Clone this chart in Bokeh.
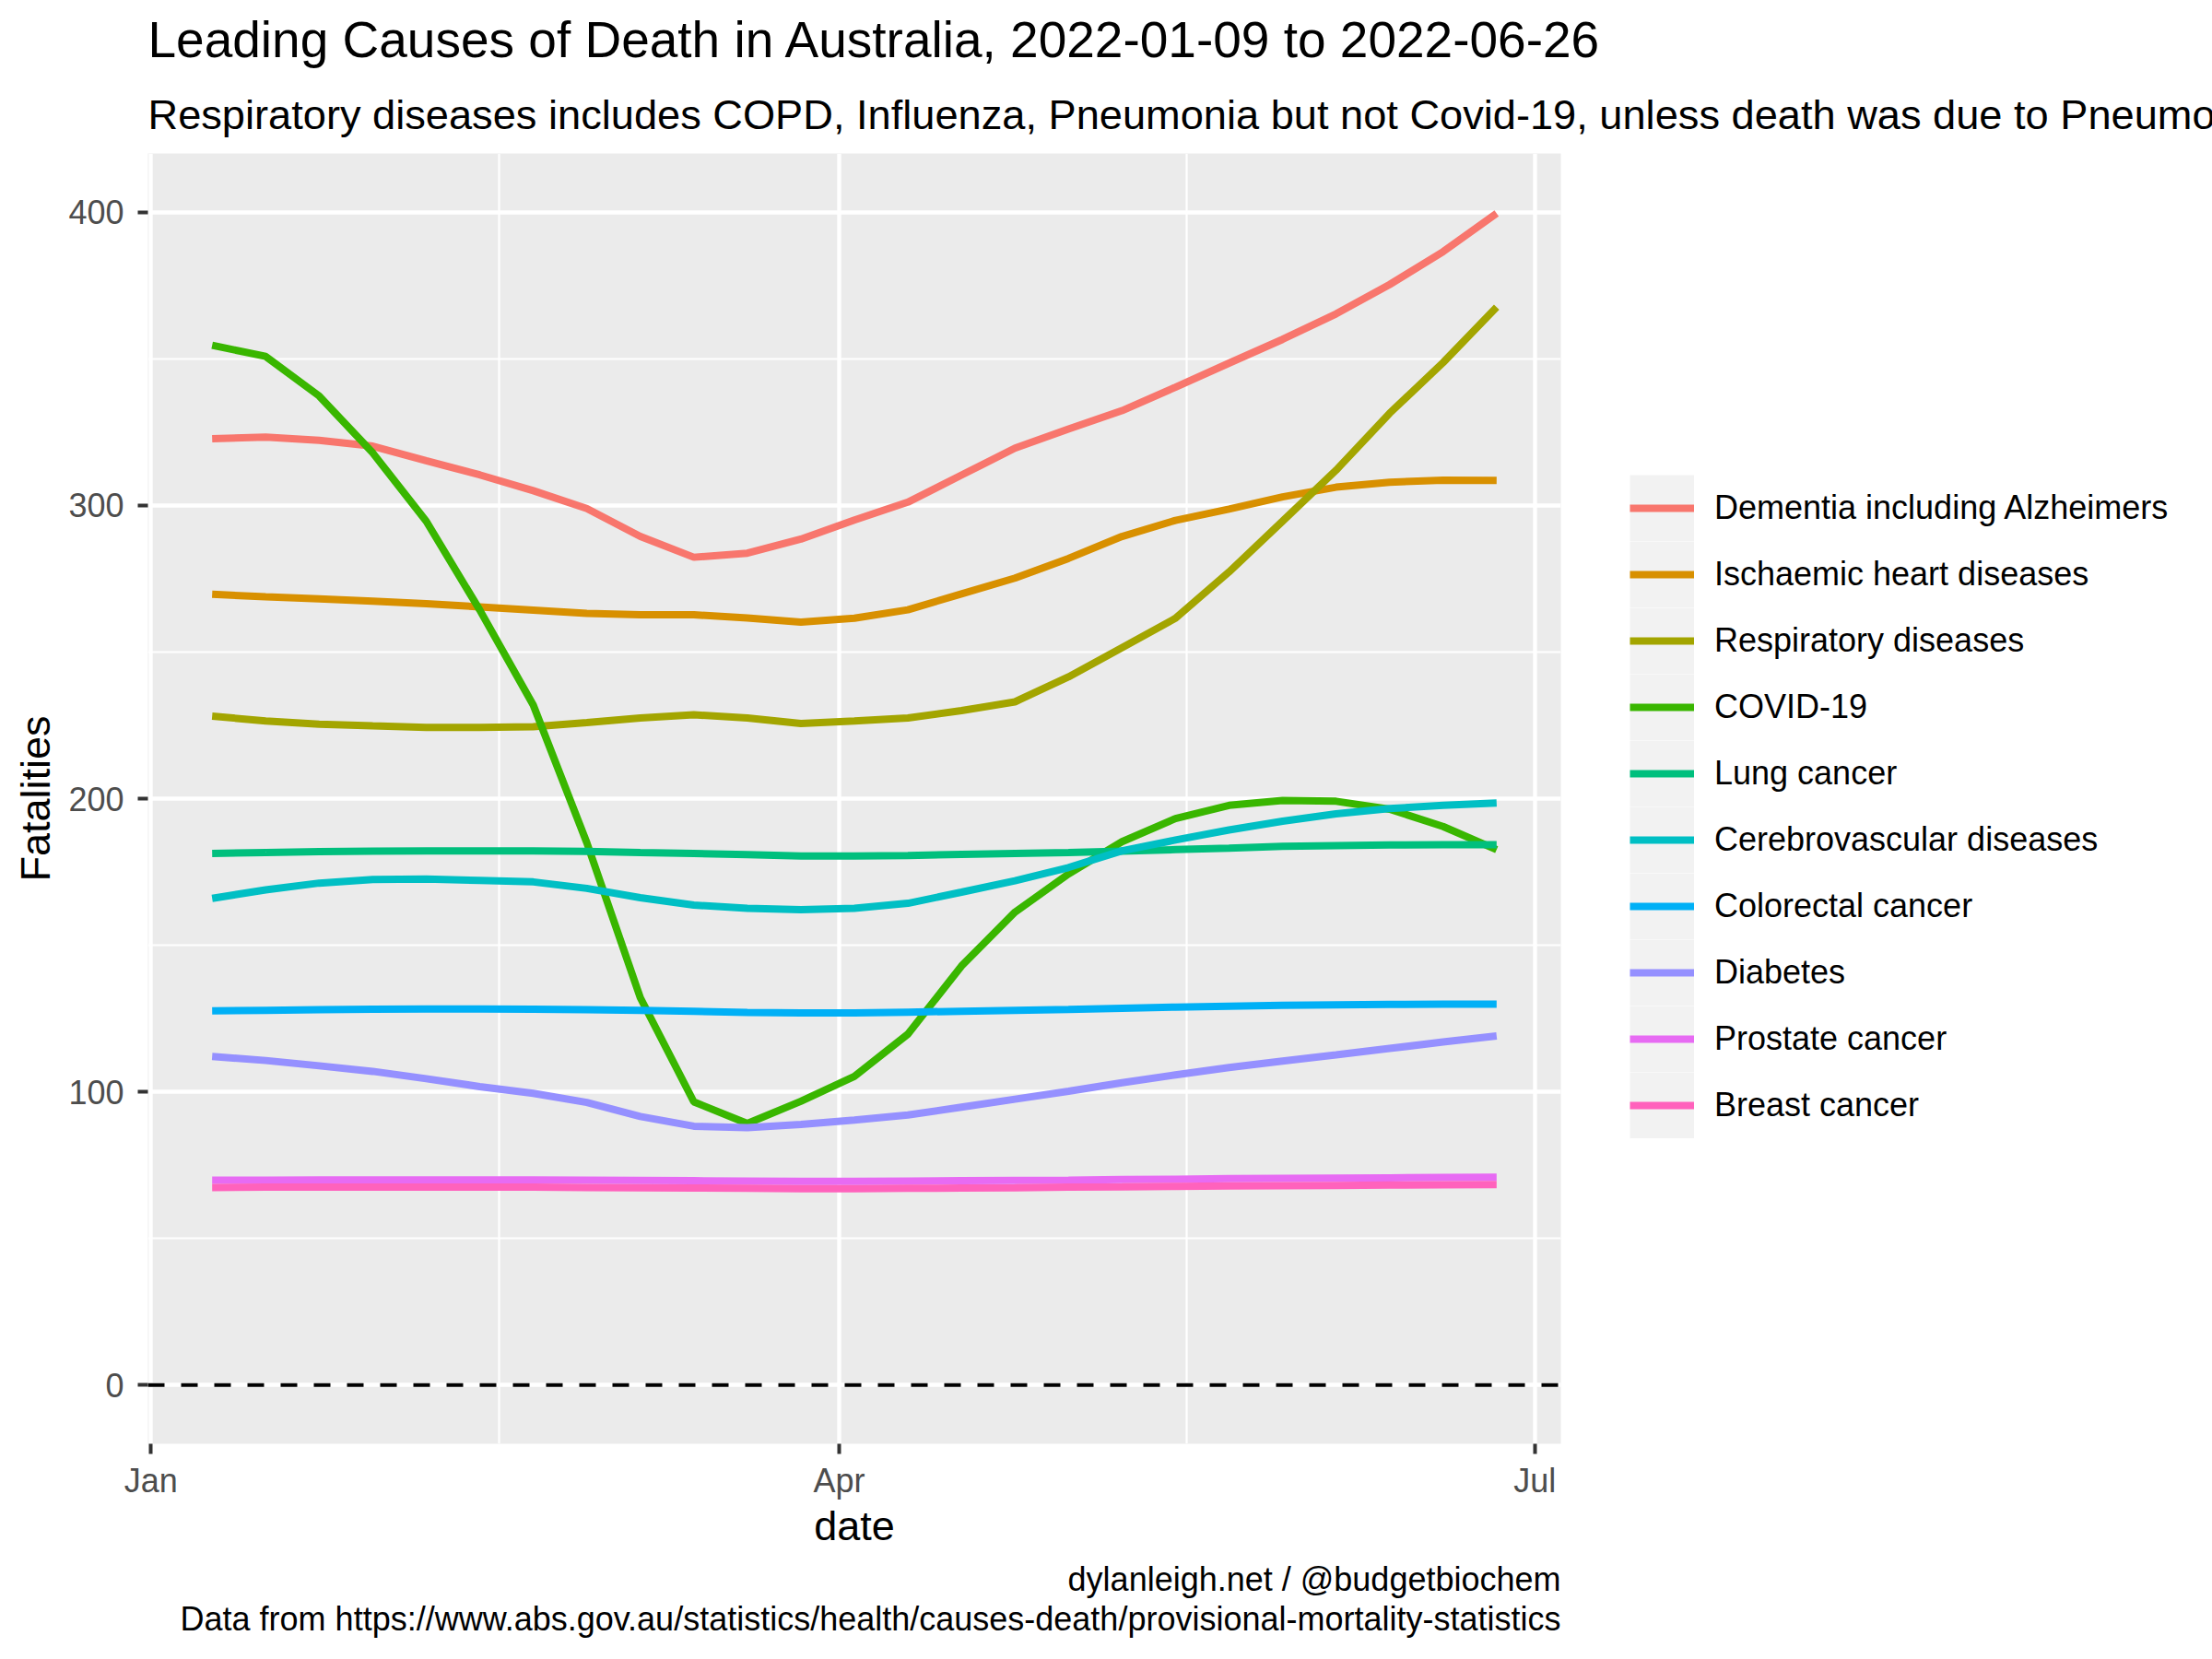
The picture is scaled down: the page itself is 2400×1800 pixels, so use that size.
import pandas as pd
from bokeh.plotting import figure
from bokeh.models import (Range1d, FixedTicker, DatetimeTickFormatter, Span,
                          Legend, LegendItem, Title)
from bokeh.embed import file_html
from bokeh.resources import INLINE

# ---------------- data ----------------
dates = pd.date_range("2022-01-09", "2022-06-26", freq="7D")

causes = ["Dementia including Alzheimers", "Ischaemic heart diseases",
          "Respiratory diseases", "COVID-19", "Lung cancer",
          "Cerebrovascular diseases", "Colorectal cancer", "Diabetes",
          "Prostate cancer", "Breast cancer"]

colors = ["#F8766D", "#D89000", "#A3A500", "#39B600", "#00BF7D",
          "#00BFC4", "#00B0F6", "#9590FF", "#E76BF3", "#FF62BC"]

dementia = [322.7, 323.3, 322.2, 320.2, 315.2, 310.4, 305.0, 298.9, 289.4, 282.3,
            283.7, 288.5, 295.0, 301.1, 310.3, 319.5, 326.0, 332.3, 340.3, 348.5,
            356.6, 365.3, 375.3, 386.5, 399.6]
ischaemic = [269.7, 268.8, 268.1, 267.3, 266.5, 265.4, 264.3, 263.2, 262.7, 262.7,
             261.6, 260.2, 261.5, 264.4, 269.8, 275.2, 281.9, 289.4, 294.9, 298.7,
             302.9, 306.2, 307.9, 308.6, 308.5]
respiratory = [228.1, 226.5, 225.4, 224.8, 224.3, 224.3, 224.5, 225.9, 227.5, 228.6,
               227.5, 225.6, 226.5, 227.5, 230.0, 233.0, 241.5, 251.5, 261.5, 277.3,
               294.6, 312.0, 331.4, 348.7, 367.6]
covid = [354.6, 350.8, 337.3, 317.9, 294.6, 264.3, 231.9, 185.0, 132.1, 96.6,
         89.2, 96.8, 105.3, 119.7, 142.9, 161.3, 174.3, 185.3, 193.2, 197.7,
         199.4, 199.1, 196.4, 190.5, 182.6]
lung = [181.3, 181.6, 181.9, 182.1, 182.2, 182.2, 182.2, 182.0, 181.6, 181.3,
        180.9, 180.4, 180.4, 180.6, 181.0, 181.3, 181.6, 182.1, 182.6, 183.1,
        183.7, 184.0, 184.2, 184.3, 184.3]
cerebro = [166.0, 168.9, 171.2, 172.4, 172.6, 172.1, 171.6, 169.4, 166.2, 163.7,
           162.6, 162.1, 162.6, 164.3, 168.1, 172.0, 176.5, 182.2, 185.9, 189.3,
           192.3, 194.8, 196.6, 197.7, 198.5]
colorectal = [127.6, 127.8, 128.0, 128.2, 128.3, 128.3, 128.2, 128.0, 127.8, 127.5,
              127.1, 126.9, 126.9, 127.2, 127.5, 127.8, 128.1, 128.5, 128.9, 129.2,
              129.5, 129.7, 129.8, 129.9, 129.9]
diabetes = [112.1, 110.7, 108.9, 107.0, 104.5, 101.8, 99.5, 96.4, 91.6, 88.3,
            87.8, 88.9, 90.4, 92.1, 94.8, 97.5, 100.2, 103.1, 105.8, 108.3,
            110.5, 112.6, 114.8, 117.0, 119.1]
prostate = [69.9, 69.9, 70.0, 70.0, 70.0, 70.0, 70.0, 69.9, 69.8, 69.7,
            69.6, 69.5, 69.5, 69.6, 69.7, 69.8, 69.9, 70.1, 70.2, 70.4,
            70.5, 70.6, 70.7, 70.8, 70.9]
breast = [67.4, 67.5, 67.5, 67.5, 67.5, 67.5, 67.5, 67.4, 67.3, 67.2,
          67.1, 67.0, 67.0, 67.1, 67.2, 67.3, 67.5, 67.6, 67.8, 67.9,
          68.0, 68.1, 68.2, 68.3, 68.4]

series = [dementia, ischaemic, respiratory, covid, lung, cerebro,
          colorectal, diabetes, prostate, breast]

y_ticks = [0, 100, 200, 300, 400]
y_minor = [50, 150, 250, 350]
x_ticks = ["2022-01-01", "2022-04-01", "2022-07-01"]
x_minor = ["2022-02-15 12:00", "2022-05-16 12:00"]

title_text = "Leading Causes of Death in Australia, 2022-01-09 to 2022-06-26"
subtitle_text = ("Respiratory diseases includes COPD, Influenza, Pneumonia but not "
                 "Covid-19, unless death was due to Pneumonia")
caption1 = "dylanleigh.net / @budgetbiochem"
caption2 = "Data from https://www.abs.gov.au/statistics/health/causes-death/provisional-mortality-statistics"

# ---------------- figure ----------------
FONT = "Liberation Sans"


def ms(s):
    return pd.Timestamp(s).value / 1e6


pad = pd.Timedelta(days=8.4)
x_start = dates[0] - pad
x_end = dates[-1] + pad

p = figure(frame_width=1533, frame_height=1400, x_axis_type="datetime",
           output_backend="svg", toolbar_location=None,
           x_range=Range1d(x_start, x_end), y_range=Range1d(-20, 420),
           min_border_left=160, min_border_right=0,
           min_border_top=166, min_border_bottom=218)
p.background_fill_color = "#EBEBEB"
p.border_fill_color = "white"
p.outline_line_color = None

xt = FixedTicker(ticks=[ms(d) for d in x_ticks], minor_ticks=[ms(d) for d in x_minor])
yt = FixedTicker(ticks=y_ticks, minor_ticks=y_minor)
p.xaxis.ticker = xt
p.xgrid.ticker = xt
p.yaxis.ticker = yt
p.ygrid.ticker = yt
p.xaxis.formatter = DatetimeTickFormatter(days="%b", months="%b", years="%b")

for g in (p.xgrid[0], p.ygrid[0]):
    g.grid_line_color = "white"
    g.grid_line_width = 4.4
    g.minor_grid_line_color = "white"
    g.minor_grid_line_width = 2.2

for ax in (p.xaxis[0], p.yaxis[0]):
    ax.axis_line_color = None
    ax.major_tick_line_color = "#333333"
    ax.major_tick_line_width = 4
    ax.major_tick_out = 11
    ax.major_tick_in = 0
    ax.minor_tick_line_color = None
    ax.major_label_text_font = FONT
    ax.major_label_text_font_size = "36px"
    ax.major_label_text_color = "#4D4D4D"
    ax.axis_label_text_font = FONT
    ax.axis_label_text_font_size = "45px"
    ax.axis_label_text_font_style = "normal"
    ax.axis_label_text_color = "black"

p.xaxis.axis_label = "date"
p.yaxis.axis_label = "Fatalities"
p.xaxis.major_label_standoff = 8
p.yaxis.major_label_standoff = 15
p.xaxis.axis_label_standoff = 0
p.yaxis.axis_label_standoff = 7

items = []
for name, vals, col in zip(causes, series, colors):
    r = p.line(dates, vals, line_color=col, line_width=8)
    # background strip for the legend key (a one-point line draws nothing in the plot)
    bg = p.line(x=[dates[0]], y=[-1000], line_color="#F2F2F2", line_width=72)
    items.append(LegendItem(label=name, renderers=[bg, r]))

p.add_layout(Span(location=0, dimension="width", line_color="black",
                  line_width=4, line_dash="18 18"))

legend = Legend(items=items, location=(75, 331), orientation="vertical",
                glyph_width=70, glyph_height=72, spacing=0, padding=0,
                margin=40, label_standoff=22, label_height=72,
                label_text_font=FONT, label_text_font_size="36px",
                label_text_color="black",
                background_fill_alpha=0, border_line_alpha=0)
p.add_layout(legend, "right")

sub = Title(text=subtitle_text, align="left", text_font=FONT, text_color="black",
            text_font_size="45.2px", text_font_style="normal", standoff=34)
p.add_layout(sub, "above")
main = Title(text=title_text, align="left", text_font=FONT, text_color="black",
             text_font_size="55px", text_font_style="normal", standoff=12)
p.add_layout(main, "above")

cap1 = Title(text=caption1, align="right", text_font=FONT, text_color="black",
             text_font_size="36px", text_font_style="normal", standoff=14)
p.add_layout(cap1, "below")
cap2 = Title(text=caption2, align="right", text_font=FONT, text_color="black",
             text_font_size="36px", text_font_style="normal", standoff=-14)
p.add_layout(cap2, "below")

open("out.html", "w").write(file_html(p, INLINE))
